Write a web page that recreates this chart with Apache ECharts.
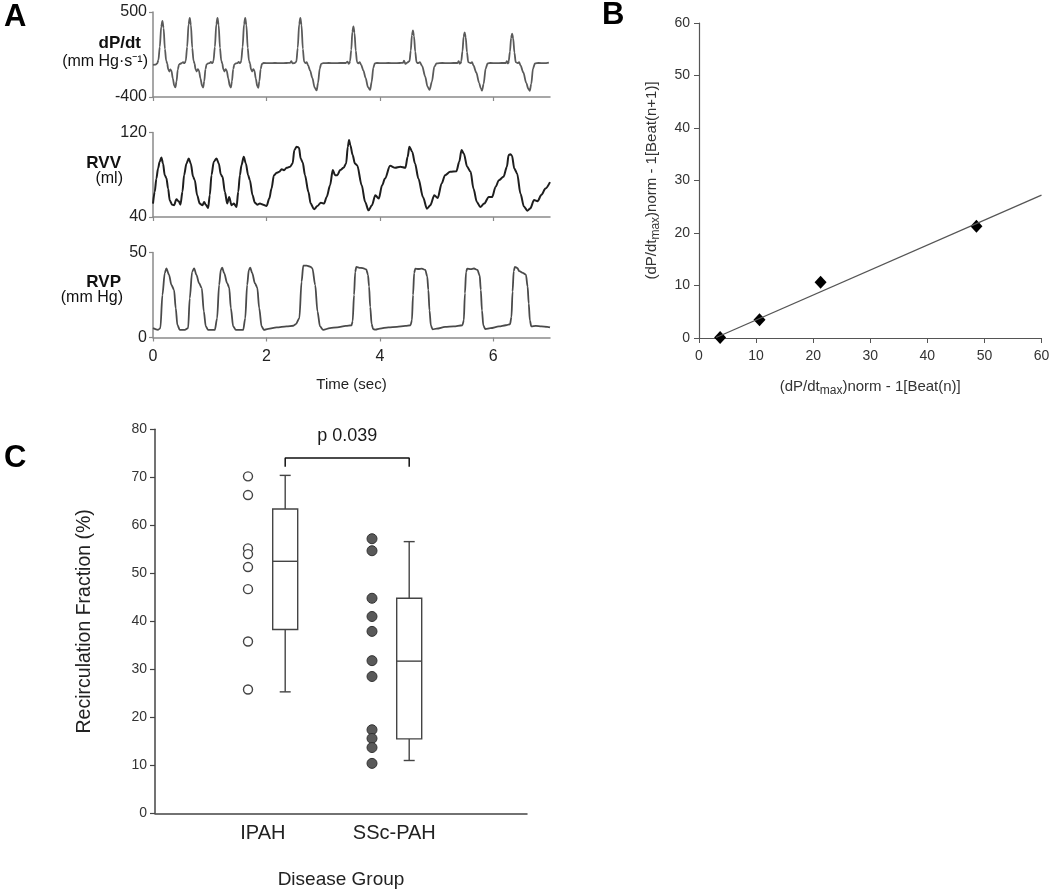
<!DOCTYPE html>
<html><head><meta charset="utf-8">
<script src="https://cdn.jsdelivr.net/npm/echarts@6/dist/echarts.min.js"></script>
<style>html,body{margin:0;padding:0;background:#fff}#c{width:1050px;height:891px}</style>
</head><body><div id="c"></div><script>
// ---------- Panel A data (time in s) ----------
const timeTicks = [0, 2, 4, 6];
const dpdtTicks = [-400, 500];
const rvvTicks = [40, 120];
const rvpTicks = [0, 50];
const dpdt = [[0.00,-60],[0.04,-58],[0.075,-45],[0.095,-10],[0.12,130],[0.145,345],[0.166,405],[0.187,330],[0.21,110],[0.232,-15],[0.25,-45],[0.268,-105],[0.288,-130],[0.306,-108],[0.325,-122],[0.35,-205],[0.375,-280],[0.395,-298],[0.415,-235],[0.437,-110],[0.458,-58],[0.48,-48],[0.51,-40],[0.53,-30],[0.55,-42],[0.565,-35],
[0.578,-15],[0.602,130],[0.627,370],[0.648,437],[0.669,360],[0.692,120],[0.714,-15],[0.732,-45],[0.75,-105],[0.77,-130],[0.79,-105],[0.81,-122],[0.838,-205],[0.864,-282],[0.884,-300],[0.903,-235],[0.925,-105],[0.945,-55],[0.97,-45],[1.0,-40],[1.02,-28],[1.04,-42],[1.055,-35],
[1.067,-15],[1.091,130],[1.116,370],[1.137,437],[1.158,360],[1.181,120],[1.203,-15],[1.221,-45],[1.24,-105],[1.26,-130],[1.28,-105],[1.30,-122],[1.328,-205],[1.353,-282],[1.373,-300],[1.392,-235],[1.414,-105],[1.435,-55],[1.46,-45],[1.49,-40],[1.51,-28],[1.53,-42],[1.545,-35],
[1.556,-15],[1.58,130],[1.605,370],[1.626,437],[1.647,360],[1.67,120],[1.692,-15],[1.71,-45],[1.728,-105],[1.748,-130],[1.768,-105],[1.788,-122],[1.813,-205],[1.838,-285],[1.856,-302],[1.875,-235],[1.898,-105],[1.92,-50],[1.95,-40],
[2.05,-42],[2.15,-40],[2.25,-42],[2.35,-40],[2.42,-38],[2.44,-20],[2.46,-45],[2.5,-40],
[2.528,-25],[2.552,120],[2.577,370],[2.598,437],[2.619,360],[2.642,110],[2.664,-25],[2.69,-42],[2.71,-32],[2.735,-65],[2.77,-120],[2.81,-200],[2.85,-300],[2.886,-330],[2.91,-250],[2.94,-100],[2.965,-50],[3.0,-42],
[3.1,-40],[3.2,-42],[3.3,-40],[3.4,-40],[3.43,-25],[3.45,-48],[3.465,-40],
[3.474,-20],[3.496,100],[3.515,290],[3.534,348],[3.553,280],[3.575,90],[3.597,-30],[3.62,-45],[3.645,-30],[3.67,-60],[3.71,-120],[3.75,-200],[3.79,-295],[3.829,-325],[3.855,-240],[3.885,-90],[3.91,-45],[3.95,-40],
[4.05,-42],[4.15,-40],[4.25,-42],[4.35,-40],[4.41,-38],[4.425,-15],[4.45,-50],[4.475,-38],
[4.523,-20],[4.545,90],[4.565,255],[4.583,305],[4.602,245],[4.624,80],[4.646,-30],[4.67,-42],[4.705,-32],[4.745,-70],[4.8,-185],[4.84,-290],[4.876,-325],[4.918,-238],[4.96,-79],[5.0,-44],
[5.1,-40],[5.2,-42],[5.3,-40],[5.37,-40],[5.39,-20],[5.41,-48],[5.43,-38],
[5.435,-20],[5.457,85],[5.477,240],[5.495,285],[5.514,230],[5.536,75],[5.558,-30],[5.6,-42],[5.625,-30],[5.65,-65],[5.7,-140],[5.75,-250],[5.78,-310],[5.802,-332],[5.83,-260],[5.865,-100],[5.9,-45],[5.95,-40],
[6.05,-42],[6.15,-40],[6.22,-40],[6.24,-20],[6.255,-45],[6.27,-38],
[6.272,-20],[6.294,80],[6.314,225],[6.332,272],[6.351,220],[6.373,70],[6.395,-30],[6.43,-42],[6.455,-30],[6.48,-65],[6.53,-140],[6.58,-250],[6.62,-315],[6.643,-335],[6.67,-260],[6.7,-100],[6.735,-45],[6.8,-40],[6.9,-42],[6.98,-35]];
const rvv = [[0.0,52.7],[0.03,63.8],[0.06,76.4],[0.089,86],[0.118,92.3],[0.148,96.4],[0.177,90.7],[0.207,79.6],[0.236,77],[0.266,67],[0.295,55.8],[0.336,51.7],[0.371,51.1],[0.413,56.8],[0.454,54.9],[0.484,51.7],[0.519,63.8],[0.548,79.6],[0.59,90.7],[0.63,95.4],[0.666,90.7],[0.707,78],[0.737,74.9],[0.778,60.6],[0.825,52.7],[0.872,51.1],[0.902,54.3],[0.931,51.7],[0.972,48.6],[1.001,60.6],[1.031,79.6],[1.072,92.3],[1.12,95.4],[1.16,90.7],[1.196,80.2],[1.226,78],[1.267,63.8],[1.308,52.7],[1.343,59],[1.385,51.1],[1.426,52.7],[1.473,49.5],[1.503,63.8],[1.532,79.6],[1.56,89],[1.60,97],[1.637,90.7],[1.678,79.6],[1.708,74.9],[1.755,60.6],[1.796,53.6],[1.838,51.7],[1.885,52.7],[1.944,51.7],[2.003,50.5],[2.05,57.4],[2.09,67],[2.132,79.6],[2.18,81.8],[2.227,82.8],[2.268,85.3],[2.31,84.3],[2.356,86.6],[2.415,87.5],[2.462,90.7],[2.492,103.4],[2.533,106.5],[2.574,105.6],[2.604,95.4],[2.64,91.6],[2.68,79.6],[2.74,63.8],[2.78,52.7],[2.84,47.3],[2.9,50.5],[2.96,53.6],[3.016,52.7],[3.063,59],[3.122,70],[3.17,84.4],[3.21,79.6],[3.25,79.6],[3.30,84.4],[3.36,86.6],[3.405,90.7],[3.435,106.5],[3.457,112.9],[3.48,108],[3.52,98.6],[3.56,90.7],[3.6,89],[3.68,70],[3.74,54.3],[3.80,46.3],[3.86,51.1],[3.92,60.6],[3.98,57.4],[4.04,70],[4.09,76.4],[4.18,88.5],[4.27,86.6],[4.36,87.5],[4.45,86.6],[4.49,97],[4.52,106.5],[4.57,101.8],[4.62,90.7],[4.68,76.4],[4.76,59],[4.83,47.9],[4.89,51.1],[4.96,60.6],[5.02,58],[5.09,71.7],[5.15,79.6],[5.24,82.8],[5.35,83.4],[5.40,92.3],[5.44,103.4],[5.48,100.2],[5.54,87.5],[5.60,82.8],[5.65,67],[5.71,54.3],[5.77,49.5],[5.84,52.7],[5.92,59],[5.98,59],[6.04,68.5],[6.10,74.9],[6.18,78],[6.24,87.5],[6.27,98.6],[6.30,99.5],[6.33,98],[6.37,86],[6.42,81.2],[6.48,62],[6.54,50],[6.6,46],[6.65,48],[6.72,56],[6.78,55],[6.85,61],[6.92,67],[7.0,73]];
const rvp = [[0,5.5],[0.089,4.5],[0.13,5.5],[0.166,25],[0.207,37.8],[0.236,40.7],[0.283,36.8],[0.325,30.9],[0.371,28],[0.401,17.2],[0.43,7.4],[0.472,4.5],[0.56,4.5],[0.619,5.5],[0.648,23.1],[0.69,38.7],[0.725,40.7],[0.766,36.8],[0.813,31.9],[0.86,29],[0.896,15.3],[0.931,6.5],[0.972,4.5],[1.09,4.5],[1.13,11.3],[1.166,30.9],[1.196,39.7],[1.22,41.1],[1.255,37.8],[1.308,31.9],[1.343,29.4],[1.373,17.2],[1.414,6.5],[1.461,4.5],[1.59,4.5],[1.626,11.3],[1.66,30.9],[1.69,39.7],[1.714,41.1],[1.75,37.8],[1.797,31.9],[1.838,29.4],[1.873,17.2],[1.915,6.5],[1.956,4.5],[2.03,5.1],[2.18,5.9],[2.356,6.5],[2.474,6.9],[2.52,7.9],[2.58,11.3],[2.62,32.9],[2.65,42.3],[2.71,42.3],[2.77,41.7],[2.81,40.7],[2.86,30.9],[2.90,15.3],[2.945,6.5],[3.0,4.5],[3.12,5.5],[3.25,6.0],[3.4,6.8],
[3.50,7.2],[3.52,9.5],[3.545,25],[3.565,38.5],[3.585,41.5],[3.64,41],[3.70,40.8],[3.76,40],[3.79,37],[3.81,30],[3.83,18],[3.855,8],[3.88,5],[3.92,4.6],[4.0,5.2],[4.15,6],[4.3,6.3],[4.45,6.8],
[4.54,7.2],[4.565,10],[4.585,25],[4.605,38],[4.625,40.5],[4.68,40.3],[4.74,40.5],[4.8,39.8],[4.835,36],[4.855,28],[4.875,16],[4.9,7],[4.93,4.8],[5.0,5.2],[5.15,6.2],[5.3,6.6],
[5.455,7.2],[5.48,10],[5.5,26],[5.52,38.5],[5.54,40.5],[5.6,40.2],[5.66,40.6],[5.72,39.8],[5.76,36.5],[5.78,28],[5.80,16],[5.825,7],[5.86,5],[5.95,5.5],[6.1,6.5],[6.22,7.2],
[6.295,7.8],[6.32,12],[6.34,27],[6.36,39],[6.38,41.5],[6.42,41],[6.46,39],[6.52,38],[6.575,37],[6.605,30],[6.625,20],[6.645,10],[6.67,6.5],[6.75,6.8],[6.85,6.5],[6.95,6.3],[7.0,6]];

// ---------- Panel B data ----------
const beatN = [3.7, 10.6, 21.3, 48.6];
const beatN1 = [0.1, 3.5, 10.6, 21.3];
const fitLine = [[3.0, 0.1], [60, 27.2]];

// ---------- Panel C data ----------
const groups = ['IPAH', 'SSc-PAH'];
const ipahPts = [70.2, 66.3, 55.2, 54.0, 51.3, 46.7, 35.8, 25.8];
const sscPts = [57.2, 54.7, 44.8, 41.0, 37.9, 31.8, 28.5, 17.4, 15.6, 13.7, 10.4];
const ipahBox = [25.3, 38.3, 52.5, 63.4, 70.4];   // min, Q1, median, Q3, max
const sscBox = [11.0, 15.5, 31.7, 44.8, 56.6];
const pLabel = 'p 0.039';

// layout constants (positions on panel C's x scale)
const dotX = [0.75, 1.75], boxX = [1.05, 2.05], labX = [0.87, 1.93];
const brTop = 74, brLeg = 72.2, pPos = [1.55, 78.6];

const FONT = 'Liberation Sans, Arial, sans-serif';
const axA = '#8a8a8a';

function aX(gi, labels) {
  return {type:'value', gridIndex:gi, min:0, max:7,
    axisLine:{show:true, onZero:false, lineStyle:{color:axA, width:1.5}},
    axisTick:{show:true, customValues:timeTicks, length:4, lineStyle:{color:axA, width:1.2}},
    axisLabel:{show:labels, customValues:timeTicks, fontSize:16, color:'#222', fontFamily:FONT, margin:11},
    splitLine:{show:false},
    name: labels ? 'Time (sec)' : '', nameLocation:'middle', nameGap:40,
    nameTextStyle:{fontSize:15, color:'#222', fontFamily:FONT}};
}
function aY(gi, mn, mx, ticks) {
  return {type:'value', gridIndex:gi, min:mn, max:mx,
    axisLine:{show:true, onZero:false, lineStyle:{color:axA, width:1.5}},
    axisTick:{show:true, customValues:ticks, length:4, lineStyle:{color:axA, width:1.2}},
    axisLabel:{customValues:ticks, fontSize:16, color:'#222', fontFamily:FONT, margin:6},
    splitLine:{show:false}};
}
const axC = '#444';
const option = {
  animation:false,
  backgroundColor:'#fff',
  grid:[
    {left:153, top:12, width:397, height:85, outerBoundsMode:'none'},
    {left:153, top:132.5, width:397, height:84.5, outerBoundsMode:'none'},
    {left:153, top:252.5, width:397, height:85, outerBoundsMode:'none'},
    {left:699, top:23, width:342.5, height:315, outerBoundsMode:'none'},
    {left:155, top:429.3, width:372, height:384, outerBoundsMode:'none'}
  ],
  xAxis:[
    aX(0,false), aX(1,false), aX(2,true),
    {type:'value', gridIndex:3, min:0, max:60, interval:10,
      axisLine:{onZero:false, lineStyle:{color:'#555', width:1.2}},
      axisTick:{length:5, lineStyle:{color:'#555'}},
      axisLabel:{fontSize:14, color:'#333', fontFamily:FONT, margin:11},
      splitLine:{show:false},
      name:'(dP/dt{s|max})norm - 1[Beat(n)]', nameLocation:'middle', nameGap:39,
      nameTextStyle:{fontSize:15, color:'#333', fontFamily:FONT,
        rich:{s:{fontSize:12, color:'#333', fontFamily:FONT, padding:[8,0,0,0], verticalAlign:'bottom'}}}},
    {type:'value', gridIndex:4, min:0, max:3,
      axisLine:{onZero:false, lineStyle:{color:axC, width:1.5}},
      axisTick:{show:false},
      axisLabel:{customValues:labX, fontSize:20, color:'#222', fontFamily:FONT, margin:10,
        formatter:v => v < 1.4 ? groups[0] : groups[1]},
      splitLine:{show:false},
      name:'Disease Group', nameLocation:'middle', nameGap:57,
      nameTextStyle:{fontSize:19, color:'#222', fontFamily:FONT}}
  ],
  yAxis:[
    aY(0,-400,500,dpdtTicks), aY(1,40,120,rvvTicks), aY(2,0,50,rvpTicks),
    {type:'value', gridIndex:3, min:0, max:60, interval:10,
      axisLine:{show:true, onZero:false, lineStyle:{color:'#555', width:1.2}},
      axisTick:{show:true, length:5, lineStyle:{color:'#555'}},
      axisLabel:{fontSize:14, color:'#333', fontFamily:FONT, margin:9},
      splitLine:{show:false},
      name:'(dP/dt{s|max})norm - 1[Beat(n+1)]', nameLocation:'middle', nameGap:37,
      nameTextStyle:{fontSize:15, color:'#333', fontFamily:FONT,
        rich:{s:{fontSize:12, color:'#333', fontFamily:FONT, padding:[8,0,0,0], verticalAlign:'bottom'}}}},
    {type:'value', gridIndex:4, min:0, max:80, interval:10,
      axisLine:{show:true, onZero:false, lineStyle:{color:axC, width:1.5}},
      axisTick:{show:true, length:5, lineStyle:{color:axC, width:1.2}},
      axisLabel:{fontSize:14, color:'#333', fontFamily:FONT, margin:8},
      splitLine:{show:false},
      name:'Recirculation Fraction (%)', nameLocation:'middle', nameGap:60,
      nameTextStyle:{fontSize:19.5, color:'#222', fontFamily:FONT}}
  ],
  series:[
    {type:'line', xAxisIndex:0, yAxisIndex:0, data:dpdt, showSymbol:false, smooth:0.3, smoothMonotone:'x',
      lineStyle:{color:'#5a5a5a', width:1.8}},
    {type:'line', xAxisIndex:1, yAxisIndex:1, data:rvv, showSymbol:false, smooth:0.3, smoothMonotone:'x',
      lineStyle:{color:'#1e1e1e', width:2}},
    {type:'line', xAxisIndex:2, yAxisIndex:2, data:rvp, showSymbol:false, smooth:0.3, smoothMonotone:'x',
      lineStyle:{color:'#4a4a4a', width:1.8}},
    {type:'line', xAxisIndex:3, yAxisIndex:3, data:fitLine, showSymbol:false,
      lineStyle:{color:'#555', width:1.3}},
    {type:'scatter', xAxisIndex:3, yAxisIndex:3, data:beatN.map((x,i)=>[x, beatN1[i]]),
      symbol:'diamond', symbolSize:[12,13], itemStyle:{color:'#000', opacity:1}},
    {type:'scatter', xAxisIndex:4, yAxisIndex:4, data:ipahPts.map(v=>[dotX[0], v]),
      symbol:'circle', symbolSize:9, itemStyle:{color:'#fff', borderColor:'#444', borderWidth:1.4, opacity:1}},
    {type:'scatter', xAxisIndex:4, yAxisIndex:4, data:sscPts.map(v=>[dotX[1], v]),
      symbol:'circle', symbolSize:10, itemStyle:{color:'#595959', borderColor:'#333', borderWidth:1, opacity:1}},
    {type:'custom', xAxisIndex:4, yAxisIndex:4,
      data:[[boxX[0]].concat(ipahBox), [boxX[1]].concat(sscBox)],
      encode:{x:0, y:[1,2,3,4,5]},
      renderItem:function(params, api){
        const x = api.value(0);
        const p = i => api.coord([x, api.value(i)]);
        const pmin=p(1), pq1=p(2), pmed=p(3), pq3=p(4), pmax=p(5);
        const cx = pmin[0], hw = 12.5, cw = 5.5;
        const st = {stroke:'#444', lineWidth:1.4, fill:null};
        return {type:'group', children:[
          {type:'line', shape:{x1:cx, y1:pq3[1], x2:cx, y2:pmax[1]}, style:st},
          {type:'line', shape:{x1:cx, y1:pq1[1], x2:cx, y2:pmin[1]}, style:st},
          {type:'line', shape:{x1:cx-cw, y1:pmax[1], x2:cx+cw, y2:pmax[1]}, style:st},
          {type:'line', shape:{x1:cx-cw, y1:pmin[1], x2:cx+cw, y2:pmin[1]}, style:st},
          {type:'rect', shape:{x:cx-hw, y:pq3[1], width:2*hw, height:pq1[1]-pq3[1]}, style:{stroke:'#444', lineWidth:1.4, fill:'#fff'}},
          {type:'line', shape:{x1:cx-hw, y1:pmed[1], x2:cx+hw, y2:pmed[1]}, style:st}
        ]};
      }},
    {type:'line', xAxisIndex:4, yAxisIndex:4,
      data:[[boxX[0],brLeg],[boxX[0],brTop],[boxX[1],brTop],[boxX[1],brLeg]],
      showSymbol:false, lineStyle:{color:'#111', width:1.5}}
  ],
  graphic:[
    {type:'text', x:4, y:2, style:{text:'A', font:'bold 31px '+FONT, fill:'#000'}},
    {type:'text', x:602, y:0, style:{text:'B', font:'bold 31px '+FONT, fill:'#000'}},
    {type:'text', x:4, y:443, style:{text:'C', font:'bold 31px '+FONT, fill:'#000'}},
    {type:'text', x:141, y:43, style:{text:'dP/dt', font:'bold 17px '+FONT, fill:'#111', align:'right', verticalAlign:'middle', textAlign:'right', textVerticalAlign:'middle'}},
    {type:'text', x:148, y:62, style:{text:'(mm Hg·s⁻¹)', font:'16px '+FONT, fill:'#111', align:'right', verticalAlign:'middle', textAlign:'right', textVerticalAlign:'middle'}},
    {type:'text', x:121, y:163, style:{text:'RVV', font:'bold 17px '+FONT, fill:'#111', align:'right', verticalAlign:'middle', textAlign:'right', textVerticalAlign:'middle'}},
    {type:'text', x:123, y:179, style:{text:'(ml)', font:'16px '+FONT, fill:'#111', align:'right', verticalAlign:'middle', textAlign:'right', textVerticalAlign:'middle'}},
    {type:'text', x:121, y:282, style:{text:'RVP', font:'bold 17px '+FONT, fill:'#111', align:'right', verticalAlign:'middle', textAlign:'right', textVerticalAlign:'middle'}},
    {type:'text', x:123, y:298, style:{text:'(mm Hg)', font:'16px '+FONT, fill:'#111', align:'right', verticalAlign:'middle', textAlign:'right', textVerticalAlign:'middle'}}
  ]
};
const chart = echarts.init(document.getElementById('c'), null, {renderer:'canvas'});
chart.setOption(option);
// p-value label placed through panel C's own scales
const pp = chart.convertToPixel({gridIndex:4}, pPos);
chart.setOption({graphic:[{type:'text', id:'pval', x:pp[0], y:pp[1],
  style:{text:pLabel, font:'18px '+FONT, fill:'#1a1a1a', align:'center', verticalAlign:'middle', textAlign:'center', textVerticalAlign:'middle'}}]});
</script></body></html>
